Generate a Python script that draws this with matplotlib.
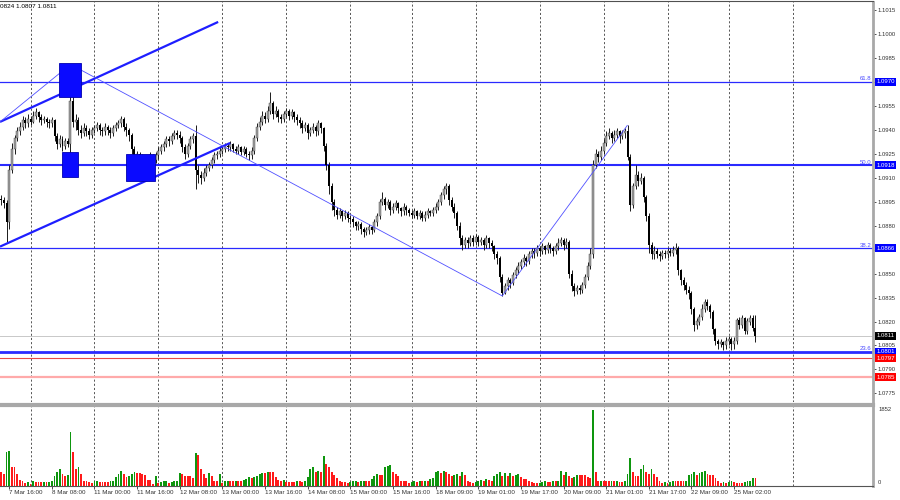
import matplotlib
matplotlib.use('Agg')
import matplotlib.pyplot as plt
import matplotlib.transforms as mtransforms
from matplotlib.patches import Rectangle
import numpy as np
import pandas as pd

plt.rcParams['font.family'] = ['Liberation Sans', 'DejaVu Sans']

# EURUSD H1, hours shown per trading day: (day, first hour, number of bars)
sessions = [('2024-03-07', 13, 11), ('2024-03-08', 0, 24), ('2024-03-11', 0, 24),
            ('2024-03-12', 0, 24), ('2024-03-13', 0, 24), ('2024-03-14', 0, 24),
            ('2024-03-15', 0, 23), ('2024-03-18', 0, 24), ('2024-03-19', 0, 24),
            ('2024-03-20', 0, 24), ('2024-03-21', 0, 24), ('2024-03-22', 0, 23),
            ('2024-03-25', 0, 11)]

# prices as 1.0xxx -> xxx (pips)
first_open = 897
closes = [896, 894, 882, 915, 928, 935, 939, 942, 946, 944,
          947, 945, 949, 951, 948, 946, 947, 945, 944, 946,
          936, 931, 934, 930, 933, 931, 958, 945, 946, 940,
          938, 941, 939, 937, 940, 941, 943, 940, 939, 942,
          940, 938, 941, 943, 944, 947, 942, 940, 937, 928,
          922, 925, 921, 923, 919, 922, 924, 921, 924, 927,
          929, 931, 934, 933, 936, 938, 937, 935, 929, 925,
          930, 934, 936, 915, 912, 910, 913, 916, 918, 921,
          924, 925, 927, 928, 930, 929, 931, 928, 927, 929,
          926, 928, 925, 924, 927, 935, 942, 945, 949, 947,
          952, 957, 950, 952, 948, 947, 950, 952, 949, 951,
          948, 946, 944, 941, 943, 938, 940, 942, 939, 944,
          941, 930, 918, 905, 895, 890, 887, 889, 886, 888,
          885, 884, 882, 880, 881, 878, 876, 877, 879, 877,
          882, 886, 895, 897, 893, 895, 890, 892, 894, 891,
          889, 892, 890, 888, 887, 889, 886, 888, 885, 887,
          889, 888, 890, 892, 895, 899, 903, 905, 896, 892,
          888, 880, 872, 868, 871, 869, 872, 870, 873, 870,
          871, 868, 872, 869, 867, 862, 860, 848, 838, 842,
          846, 844, 849, 852, 855, 857, 860, 858, 862, 864,
          863, 866, 864, 867, 865, 868, 866, 864, 867, 869,
          871, 868, 870, 850, 842, 839, 841, 840, 843, 848,
          855, 862, 918, 925, 923, 927, 932, 936, 938, 935,
          937, 939, 936, 938, 939, 923, 893, 905, 912, 908,
          910, 898, 886, 868, 862, 864, 862, 861, 863, 862,
          864, 863, 865, 866, 852, 846, 843, 840, 838, 828,
          818, 820, 823, 828, 832, 830, 826, 815, 808, 806,
          807, 805, 808, 809, 806, 808, 821, 818, 822, 814,
          820, 822, 816, 811]
highs = [899, 898, 896, 918, 932, 937, 942, 945, 949, 948,
         950, 949, 952, 954, 952, 950, 949, 948, 947, 948,
         947, 938, 937, 936, 935, 935, 981, 962, 950, 948,
         943, 944, 943, 941, 942, 943, 945, 944, 942, 944,
         943, 942, 943, 945, 946, 949, 948, 944, 941, 938,
         930, 927, 926, 925, 924, 924, 926, 925, 926, 929,
         931, 933, 936, 936, 938, 940, 940, 939, 936, 931,
         932, 936, 938, 943, 918, 914, 916, 918, 920, 923,
         926, 927, 929, 930, 932, 932, 933, 932, 930, 931,
         930, 930, 929, 927, 929, 937, 944, 948, 952, 951,
         955, 964, 958, 955, 953, 950, 952, 954, 953, 953,
         952, 950, 948, 946, 945, 944, 942, 944, 943, 946,
         945, 942, 932, 920, 907, 897, 892, 891, 890, 890,
         889, 887, 886, 883, 883, 882, 879, 879, 881, 880,
         884, 888, 897, 901, 898, 897, 896, 894, 896, 895,
         892, 894, 893, 891, 890, 891, 890, 890, 889, 889,
         891, 890, 892, 894, 897, 901, 905, 907, 906, 898,
         894, 889, 882, 874, 873, 873, 874, 874, 875, 874,
         873, 872, 874, 873, 871, 868, 864, 861, 850, 844,
         848, 847, 851, 854, 857, 859, 862, 861, 864, 866,
         866, 868, 867, 869, 868, 870, 869, 867, 869, 872,
         873, 872, 872, 871, 852, 844, 843, 843, 845, 850,
         857, 866, 921, 928, 927, 930, 934, 939, 941, 939,
         940, 941, 940, 940, 941, 943, 925, 907, 918, 914,
         913, 911, 899, 888, 870, 867, 866, 864, 865, 865,
         866, 866, 867, 869, 867, 853, 848, 845, 842, 839,
         829, 822, 825, 831, 834, 834, 831, 827, 816, 809,
         809, 808, 810, 811, 810, 810, 822, 823, 824, 823,
         822, 824, 824, 824]
lows = [893, 891, 870, 878, 913, 925, 933, 937, 940, 941,
        942, 943, 944, 947, 945, 943, 944, 942, 941, 942,
        933, 928, 929, 927, 928, 929, 920, 942, 940, 937,
        935, 936, 936, 934, 935, 938, 939, 937, 936, 937,
        937, 935, 936, 939, 941, 942, 939, 936, 933, 925,
        918, 920, 918, 919, 916, 917, 920, 918, 919, 922,
        925, 927, 929, 930, 931, 934, 934, 932, 926, 922,
        923, 928, 932, 903, 907, 906, 908, 911, 914, 916,
        919, 922, 923, 925, 926, 927, 927, 926, 925, 925,
        924, 924, 923, 921, 922, 925, 933, 940, 943, 944,
        945, 950, 947, 948, 945, 944, 945, 948, 946, 947,
        945, 943, 941, 938, 939, 934, 936, 938, 936, 937,
        938, 927, 915, 900, 890, 886, 884, 885, 883, 884,
        882, 881, 879, 877, 877, 875, 873, 874, 875, 875,
        876, 880, 884, 893, 890, 891, 887, 888, 890, 888,
        886, 887, 887, 886, 885, 885, 884, 884, 883, 883,
        885, 886, 886, 888, 890, 893, 897, 900, 893, 889,
        885, 877, 868, 865, 866, 866, 867, 867, 868, 867,
        868, 865, 866, 866, 864, 859, 856, 845, 836, 837,
        840, 841, 843, 847, 850, 853, 855, 855, 856, 860,
        860, 861, 861, 862, 862, 863, 863, 861, 862, 865,
        867, 865, 866, 847, 839, 836, 837, 837, 838, 841,
        846, 853, 860, 916, 920, 921, 925, 930, 934, 932,
        933, 935, 932, 934, 935, 921, 889, 891, 903, 905,
        906, 895, 883, 863, 859, 859, 860, 858, 859, 860,
        860, 861, 861, 862, 849, 843, 840, 837, 834, 825,
        814, 815, 818, 821, 826, 827, 822, 812, 805, 803,
        804, 802, 803, 805, 802, 803, 806, 815, 816, 812,
        812, 818, 814, 807]
volumes = [330, 290, 820, 840, 450, 450, 270, 130, 110, 60,
           95, 45, 110, 95, 85, 80, 85, 80, 85, 120,
           220, 330, 410, 285, 220, 245, 1300, 815, 410, 440,
           285, 120, 105, 80, 65, 100, 110, 95, 90, 85,
           80, 100, 120, 200, 270, 350, 270, 200, 220, 285,
           325, 300, 300, 285, 245, 145, 145, 40, 220, 55,
           80, 100, 105, 65, 80, 100, 105, 300, 270, 220,
           220, 220, 190, 800, 735, 410, 285, 190, 300, 220,
           105, 100, 270, 65, 100, 120, 120, 100, 105, 105,
           105, 140, 165, 200, 190, 200, 220, 270, 300, 300,
           325, 325, 320, 200, 140, 100, 140, 80, 80, 80,
           80, 105, 100, 80, 100, 200, 410, 450, 325, 365,
           330, 710, 515, 450, 325, 245, 190, 120, 80, 80,
           65, 80, 100, 120, 80, 100, 120, 120, 100, 165,
           220, 285, 245, 245, 450, 475, 490, 340, 285, 220,
           120, 100, 100, 65, 80, 100, 80, 100, 100, 120,
           105, 165, 190, 325, 350, 300, 350, 325, 270, 220,
           245, 270, 220, 340, 245, 120, 80, 60, 80, 120,
           145, 120, 165, 145, 105, 220, 270, 325, 220, 300,
           220, 300, 240, 245, 270, 200, 165, 165, 105, 80,
           55, 55, 65, 80, 100, 80, 80, 100, 100, 105,
           350, 245, 340, 220, 190, 200, 245, 245, 245, 245,
           200, 190, 1852, 340, 105, 120, 120, 120, 105, 120,
           105, 120, 80, 80, 105, 270, 680, 325, 230, 220,
           390, 490, 325, 290, 410, 270, 200, 100, 55, 80,
           65, 80, 120, 120, 120, 105, 100, 105, 245, 285,
           325, 245, 300, 335, 365, 270, 260, 245, 190, 105,
           65, 80, 65, 80, 105, 80, 65, 65, 65, 80,
           105, 120, 190, 180]

# analysis drawings (bar index, pips)
fib_levels = [('61.8', 970, 0.9), ('50.0', 918, 1.5), ('38.2', 866, 0.9), ('23.6', 801, 2.0)]
channel_upper = [(-0.45, 945.0), (81.4, 1007.6)]
channel_lower = [(-0.45, 866.9), (85.9, 931.8)]
zigzag = [(-0.45, 945.0), (26, 981), (188, 836), (235, 943)]
boxes = [(21.7, 29.9, 960.6, 981.9), (22.8, 28.8, 910.5, 926.2), (46.8, 57.7, 908.0, 924.9)]
red_levels = [(797, '#e84848', 0.8), (785, '#ffaaaa', 1.6)]
bid = 811

times = []
for day, h0, n in sessions:
    times += list(pd.date_range(pd.Timestamp(day) + pd.Timedelta(hours=h0), periods=n, freq='h'))
times = pd.DatetimeIndex(times)

P = lambda v: 1 + np.asarray(v, dtype=float) / 10000
c = P(closes)
o = P([first_open] + closes[:-1])
hi = P(highs)
lo = P(lows)
x = np.arange(len(closes))
vol = np.array(volumes)

fig = plt.figure(figsize=(9, 5), dpi=100)
ax = fig.add_axes([0, 0.197, 0.97, 0.8])
vax = fig.add_axes([0, 0.029, 0.97, 0.161])
xmin, xmax = -0.45, 327.1

# day separators (plus next day on the empty right side)
grid_x = list(x[times.hour == 0]) + [x[-1] + 14]
for a in (ax, vax):
    for g in grid_x:
        a.axvline(g, color='#3c3c3c', lw=0.6, ls=(0, (2.5, 2.5)), zorder=0)

# candles
up = c >= o
ax.vlines(x, lo, hi, color='#1a1a1a', lw=0.7, zorder=3)
body = np.maximum(np.abs(c - o), 0.00004)
ax.bar(x[up], body[up], 0.75, bottom=np.minimum(o, c)[up], color='#a4a4a4',
       edgecolor='#3a3a3a', lw=0.3, zorder=4)
ax.bar(x[~up], body[~up], 0.75, bottom=np.minimum(o, c)[~up], color='black',
       lw=0, zorder=4)

# levels
for name, lvl, w in fib_levels:
    ax.axhline(P(lvl), color='#2a2aff', lw=w, zorder=2)
    ax.text(xmax - 0.6, P(lvl) + 0.00003, name, ha='right', va='bottom',
            color='#4a4aff', fontsize=4.3, zorder=6)
for lvl, col, w in red_levels:
    ax.axhline(P(lvl), color=col, lw=w, zorder=2)
ax.axhline(P(bid), color='#c8c8c8', lw=0.7, zorder=1)

for pts, w, col in ((channel_upper, 1.6, '#1e1eff'), (channel_lower, 1.6, '#1e1eff'),
                    (zigzag, 0.6, '#5050ff')):
    px, py = zip(*pts)
    ax.plot(px, P(py), color=col, lw=w, zorder=5, solid_capstyle='butt')
for x0, x1, y0, y1 in boxes:
    ax.add_patch(Rectangle((x0, P(y0)), x1 - x0, P(y1) - P(y0), fc='#0a0aff',
                           ec='#0000b0', lw=0.6, zorder=7))

# price tags on the axis
tags = [(970, '#0000ff'), (918, '#0000ff'), (866, '#0000ff'), (bid, 'black'),
        (801, '#0000ff'), (797, '#ff0000'), (785, '#ff0000')]

ax.set_xlim(xmin, xmax)
ax.set_ylim(P(769.9), P(1020.4))
ax.set_xticks([])
ax.yaxis.tick_right()
yt = np.arange(775, 1016, 15)
ax.set_yticks(P(yt))
# labels hidden behind a tag are left blank
ax.set_yticklabels(['' if min(abs(v - t) for t, _ in tags) < 3 else f'{P(v):.4f}' for v in yt])
ax.tick_params(axis='y', labelsize=4.2, length=2, width=0.6, pad=1.5,
               colors='#333333')
for s in ('left', 'bottom'):
    ax.spines[s].set_visible(False)
ax.spines['top'].set_color('#505050')
ax.spines['right'].set_color('#a8a8a8')
ax.spines['right'].set_linewidth(2)

tr = mtransforms.blended_transform_factory(ax.transAxes, ax.transData)
for lvl, col in tags:
    ax.text(1.004, P(lvl), f'{P(lvl):.4f}', transform=tr, ha='left', va='center',
            fontsize=4.3, color='white', zorder=10,
            bbox=dict(boxstyle='square,pad=0.25', fc=col, ec='none'))

fig.text(0.0, 0.988, '0824 1.0807 1.0811', fontsize=4.6, va='center', color='black')

# volumes, green when above previous bar
vcol = ['#ff1a1a'] + ['#0e960e' if vol[i] > vol[i - 1] else '#ff1a1a' for i in range(1, len(vol))]
vax.bar(x, vol, 0.72, color=vcol, lw=0, zorder=3)
vax.set_xlim(xmin, xmax)
vax.set_ylim(0, 1962)
vax.set_yticks([])
vtr = mtransforms.blended_transform_factory(vax.transAxes, vax.transData)
vax.text(1.006, 1852, '1852', transform=vtr, ha='left', va='center', fontsize=4.2, color='#333333')
vax.text(1.006, 0, '0', transform=vtr, ha='left', va='bottom', fontsize=4.2, color='#333333')
vax.spines['left'].set_visible(False)
vax.spines['top'].set_color('#a8a8a8')
vax.spines['top'].set_linewidth(3)
vax.spines['right'].set_color('#a8a8a8')
vax.spines['right'].set_linewidth(2)
vax.spines['bottom'].set_color('#555555')

lab_idx = x[3::16]
vax.set_xticks(lab_idx)
vax.set_xticklabels([f'{times[i].day} {times[i]:%b %H:%M}' for i in lab_idx],
                    ha='left')
vax.tick_params(axis='x', labelsize=4.5, length=2, width=0.6, pad=1.5, colors='#333333')

fig.savefig('out.png', dpi=100)
